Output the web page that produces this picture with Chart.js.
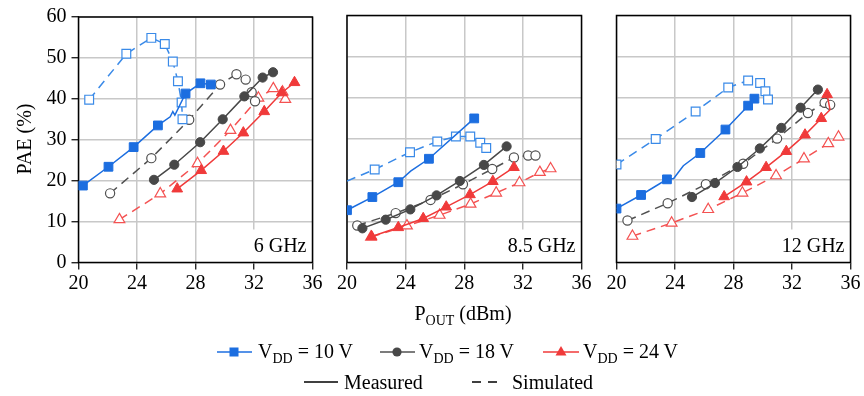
<!DOCTYPE html>
<html>
<head>
<meta charset="utf-8">
<script src="https://cdn.jsdelivr.net/npm/chart.js@4.4.1/dist/chart.umd.min.js"></script>
<style>
  html, body { margin: 0; padding: 0; background: #fff; }
  #wrap { position: relative; width: 864px; height: 396px; overflow: hidden; background: #fff; }
  canvas, svg { position: absolute; left: 0; top: 0; }
  svg text { font-family: "Liberation Serif", "Times New Roman", serif; fill: #000; }
</style>
</head>
<body>
<div id="wrap">
  <canvas id="c6" width="864" height="396"></canvas>
  <canvas id="c85" width="864" height="396"></canvas>
  <canvas id="c12" width="864" height="396"></canvas>
  <svg width="864" height="396" xmlns="http://www.w3.org/2000/svg">
    <!-- axis titles -->
    <text transform="translate(31,139) rotate(-90)" text-anchor="middle" font-size="20">PAE (%)</text>
    <text x="463" y="320" text-anchor="middle" font-size="20">P<tspan font-size="14" dy="5">OUT</tspan><tspan dy="-5"> (dBm)</tspan></text>

    <!-- legend, row 1: supply voltage -->
    <line x1="217" y1="352" x2="252" y2="352" stroke="rgb(28,110,224)" stroke-width="1.5"/>
    <rect x="229.5" y="347.5" width="9" height="9" fill="rgb(28,110,224)"/>
    <text x="258" y="358" font-size="20">V<tspan font-size="14" dy="5">DD</tspan><tspan dy="-5"> = 10 V</tspan></text>

    <line x1="380" y1="352" x2="415" y2="352" stroke="rgb(80,80,80)" stroke-width="1.5"/>
    <circle cx="397" cy="352" r="4.6" fill="rgb(72,72,72)"/>
    <text x="419" y="358" font-size="20">V<tspan font-size="14" dy="5">DD</tspan><tspan dy="-5"> = 18 V</tspan></text>

    <line x1="543" y1="352" x2="579" y2="352" stroke="rgb(240,58,58)" stroke-width="1.5"/>
    <polygon points="561,346 566.5,355.5 555.5,355.5" fill="rgb(240,58,58)"/>
    <text x="583" y="358" font-size="20">V<tspan font-size="14" dy="5">DD</tspan><tspan dy="-5"> = 24 V</tspan></text>

    <!-- legend, row 2: line style -->
    <line x1="304" y1="382" x2="338" y2="382" stroke="#000" stroke-width="1.5"/>
    <text x="344" y="389" font-size="20">Measured</text>
    <line x1="472" y1="382" x2="497" y2="382" stroke="#000" stroke-width="1.5" stroke-dasharray="9 7"/>
    <text x="512" y="389" font-size="20">Simulated</text>
  </svg>
</div>
<script>
// Axis ticks
const xTicks = [20, 24, 28, 32, 36];
const yTicks = [0, 10, 20, 30, 40, 50, 60];

// Panel labels
const panelLabels = ['6 GHz', '8.5 GHz', '12 GHz'];

// Series: [Pout (dBm), PAE (%)]; a third entry of 0 marks a vertex drawn without a marker
// 6 GHz
const f6_10V_meas = [[20.3,18.8],[22.05,23.4],[23.77,28.2],[25.43,33.5],[26.27,35.6,0],[26.45,36.9,0],[26.59,36.0,0],[27.32,41.3],[28.34,43.8],[29.05,43.5]];
const f6_10V_sim  = [[20.73,39.8],[23.27,51.0],[24.98,54.9],[25.9,53.4],[26.45,49.1],[26.8,44.3],[27.05,39.1],[27.11,35.0]];
const f6_18V_meas = [[25.16,20.2],[26.55,23.9],[28.32,29.4],[29.86,35.0],[31.34,40.6],[32.59,45.2],[33.3,46.5]];
const f6_18V_sim  = [[22.16,16.9],[24.98,25.5],[27.57,34.9],[29.68,43.5],[30.8,46.0],[31.43,44.7],[31.84,41.6],[32.07,39.4]];
const f6_24V_meas = [[26.75,18.0],[28.39,22.5],[29.91,27.2],[31.27,31.7],[32.7,36.9],[33.9,41.5],[34.77,44.0]];
const f6_24V_sim  = [[22.8,10.5],[25.59,16.8],[28.14,24.2],[30.39,32.3],[32.3,40.2],[33.32,42.5],[33.95,41.7],[34.14,39.9]];

// 8.5 GHz
const f85_10V_meas = [[20.0,12.7],[21.73,15.9],[23.5,19.5],[24.34,22.2,0],[25.59,25.2],[28.68,35.0]];
const f85_10V_sim  = [[20.0,19.8,0],[21.89,22.6],[24.3,26.8],[26.16,29.4],[27.43,30.6],[28.41,30.6],[29.09,29.1],[29.5,27.8]];
const f85_18V_meas = [[21.05,8.3],[22.64,10.4],[24.32,12.9],[26.11,16.3],[27.7,19.8],[29.34,23.7],[30.89,28.2]];
const f85_18V_sim  = [[20.7,9.0],[23.32,12.0],[25.7,15.2],[27.91,19.0],[29.91,22.7],[31.39,25.5],[32.36,26.0],[32.86,26.0]];
const f85_24V_meas = [[21.68,6.3],[23.5,8.5],[25.2,10.7],[26.77,13.5],[28.39,16.5],[29.95,19.7],[31.39,23.1]];
const f85_24V_sim  = [[21.64,6.2],[24.09,8.9],[26.32,11.5],[28.43,14.2],[30.18,16.9],[31.77,19.4],[33.16,21.9],[33.89,22.8]];

// 12 GHz
const f12_10V_meas = [[20.0,13.1],[21.68,16.4],[23.45,20.2],[23.91,20.4,0],[24.57,23.5,0],[25.73,26.6],[27.45,32.3],[29.0,38.1],[29.43,39.8]];
const f12_10V_sim  = [[20.0,23.8],[22.68,30.0],[25.41,36.7],[27.64,42.5],[29.0,44.2],[29.82,43.6],[30.18,41.6],[30.36,39.6]];
const f12_18V_meas = [[25.16,15.9],[26.73,19.3],[28.27,23.2],[29.8,27.7],[31.27,32.7],[32.59,37.6],[33.77,42.0]];
const f12_18V_sim  = [[20.75,10.2],[23.5,14.4],[26.11,19.0],[28.66,24.0],[30.98,30.1],[33.09,36.3],[34.23,38.8],[34.61,38.3]];
const f12_24V_meas = [[27.36,16.0],[28.89,19.6],[30.23,23.1],[31.61,27.0],[32.89,31.0],[34.0,35.0],[34.6,37.1,0],[34.4,40.8]];
const f12_24V_sim  = [[21.09,6.4],[23.77,9.6],[26.27,12.9],[28.61,16.9],[30.91,21.1],[32.82,25.2],[34.48,28.9],[35.18,30.5]];

// Styling
const BLUE = 'rgb(28,110,224)', BLUE_L = 'rgb(58,138,232)';
const GRAY = 'rgb(72,72,72)',   GRAY_L = 'rgb(80,80,80)';
const RED  = 'rgb(240,58,58)',  RED_L  = 'rgb(244,82,82)';
const GRID = 'rgb(200,200,200)';
const FONT = { family: '"Liberation Serif", "Times New Roman", serif', size: 20 };

const TOP = 15.5, BOTTOM = 262.5, XH = 40;
const panels = [
  { id: 'c6',  left: 78.5, right: 312.5 },
  { id: 'c85', left: 347,  right: 581.5 },
  { id: 'c12', left: 616.5, right: 850.5 }
];

function series(points, color, shape, radius, measured) {
  return {
    data: points.map(p => ({ x: p[0], y: p[1] })),
    showLine: true,
    borderColor: color,
    backgroundColor: measured ? color : '#fff',
    borderWidth: 1.5,
    borderDash: measured ? [] : [9, 6],
    tension: 0,
    pointStyle: shape,
    pointRadius: points.map(p => (p.length > 2 ? 0 : radius)),
    pointBackgroundColor: measured ? color : '#fff',
    pointBorderColor: color,
    pointBorderWidth: measured ? 1 : 1.2
  };
}

function panelSets(m10, s10, m18, s18, m24, s24) {
  return [
    series(m10, BLUE, 'rect', 6.2, true),
    series(m18, GRAY, 'circle', 4.6, true),
    series(m24, RED, 'triangle', 6.2, true),
    series(s10, BLUE_L, 'rect', 6.2, false),
    series(s18, GRAY_L, 'circle', 4.6, false),
    series(s24, RED_L, 'triangle', 6.2, false)
  ];
}

// Black frame round the plot area plus the frequency label in the lower right corner
const panelDeco = {
  id: 'panelDeco',
  beforeDatasetsDraw(chart, args, opts) {
    const a = chart.chartArea, ctx = chart.ctx;
    ctx.save();
    ctx.font = '20px "Liberation Serif", "Times New Roman", serif';
    const w = ctx.measureText(opts.label).width;
    ctx.fillStyle = '#fff';
    ctx.fillRect(a.right - w - 11, a.bottom - 33, w + 10, 32);
    ctx.fillStyle = '#000';
    ctx.textAlign = 'right';
    ctx.textBaseline = 'alphabetic';
    ctx.fillText(opts.label, a.right - 6, a.bottom - 11);
    ctx.strokeStyle = '#000';
    ctx.lineWidth = 1.5;
    ctx.strokeRect(a.left, a.top, a.right - a.left, a.bottom - a.top);
    ctx.restore();
  }
};

function makeChart(p, sets, label, showY) {
  return new Chart(document.getElementById(p.id), {
    type: 'scatter',
    data: { datasets: sets },
    options: {
      responsive: false,
      animation: false,
      events: [],
      layout: { padding: { left: showY ? 0 : p.left, right: 864 - p.right, top: TOP, bottom: 396 - BOTTOM - XH } },
      plugins: { legend: { display: false }, tooltip: { enabled: false }, panelDeco: { label } },
      scales: {
        x: {
          type: 'linear', min: 20, max: 36,
          afterBuildTicks: s => { s.ticks = xTicks.map(v => ({ value: v })); },
          ticks: { font: FONT, color: '#000', padding: 2, maxRotation: 0, autoSkip: false },
          grid: { color: GRID, lineWidth: 1.5, tickLength: 7, tickColor: '#000', tickWidth: 1.2 },
          border: { display: false },
          afterFit: s => { s.height = XH; }
        },
        y: {
          type: 'linear', min: 0, max: 60,
          afterBuildTicks: s => { s.ticks = yTicks.map(v => ({ value: v })); },
          ticks: { display: showY, font: FONT, color: '#000', padding: 5 },
          grid: { color: GRID, lineWidth: 1.5, drawTicks: showY, tickLength: 7, tickColor: '#000', tickWidth: 1.2 },
          border: { display: false },
          afterFit: s => { s.width = showY ? p.left : 0; }
        }
      }
    },
    plugins: [panelDeco]
  });
}

makeChart(panels[0], panelSets(f6_10V_meas, f6_10V_sim, f6_18V_meas, f6_18V_sim, f6_24V_meas, f6_24V_sim), panelLabels[0], true);
makeChart(panels[1], panelSets(f85_10V_meas, f85_10V_sim, f85_18V_meas, f85_18V_sim, f85_24V_meas, f85_24V_sim), panelLabels[1], false);
makeChart(panels[2], panelSets(f12_10V_meas, f12_10V_sim, f12_18V_meas, f12_18V_sim, f12_24V_meas, f12_24V_sim), panelLabels[2], false);
</script>
</body>
</html>
